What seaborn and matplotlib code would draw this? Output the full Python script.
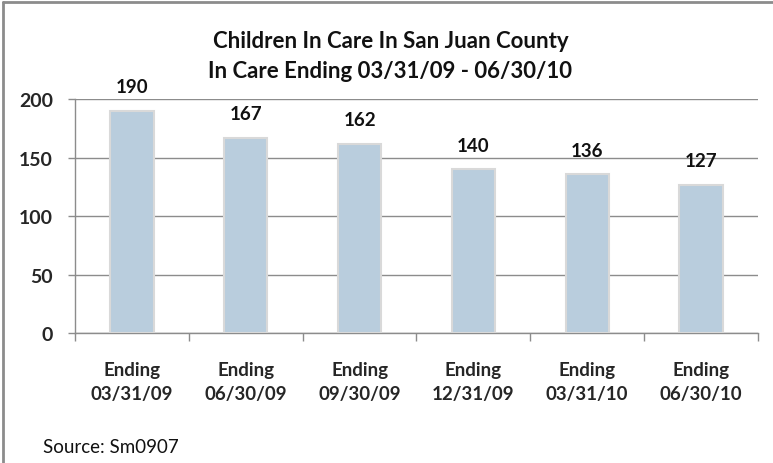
import pandas as pd
import numpy as np
import matplotlib
matplotlib.use("Agg")
import matplotlib.pyplot as plt
import seaborn as sns

# data
periods = ["Ending\n03/31/09", "Ending\n06/30/09", "Ending\n09/30/09",
           "Ending\n12/31/09", "Ending\n03/31/10", "Ending\n06/30/10"]
children = [190, 167, 162, 140, 136, 127]
y_ticks = [0, 50, 100, 150, 200]

df = pd.DataFrame({"period": periods, "children": children})

sns.set_theme(style="white")
plt.rcParams['font.family'] = ['Lato', 'DejaVu Sans']

fig = plt.figure(figsize=(7.73, 4.64), dpi=100)
ax = fig.add_axes([0.097, 0.2795, 0.8836, 0.505])

sns.barplot(data=df, x="period", y="children", color="#B9CDDD", saturation=1,
            width=0.38, edgecolor="#d9d9d9", linewidth=1.5, ax=ax, zorder=3)

ax.set_ylim(0, 200)
ax.set_xlim(-0.5, len(periods) - 0.5)
ax.set_yticks(y_ticks)
ax.set_yticklabels([str(t) for t in y_ticks], fontsize=14, fontweight="bold")
ax.yaxis.grid(True, color="#8c8c8c", linewidth=1, zorder=0)
ax.tick_params(axis="y", length=5, width=1, color="#8c8c8c", pad=11, left=True)

# tick marks between categories, labels at category centres
ax.set_xticks(np.arange(-0.5, len(periods)), labels=[""] * (len(periods) + 1))
ax.set_xticks(range(len(periods)), labels=periods, minor=True)
ax.tick_params(axis="x", which="major", length=6, width=1, color="#8c8c8c", bottom=True)
ax.tick_params(axis="x", which="minor", length=0, pad=20, labelsize=13.5)
for lab in ax.get_xticklabels(minor=True):
    lab.set_fontweight("bold")
    lab.set_linespacing(1.5)

ax.set_xlabel("")
ax.set_ylabel("")
for side in ["top", "right"]:
    ax.spines[side].set_visible(False)
for side in ["left", "bottom"]:
    ax.spines[side].set_color("#8c8c8c")
    ax.spines[side].set_linewidth(1)

# value labels
for i, v in enumerate(children):
    ax.annotate(str(v), (i, v), xytext=(0, 11), textcoords="offset points",
                ha="center", va="bottom", fontsize=13.5, fontweight="bold",
                color="#111111", zorder=5)

fig.text(0.505, 1 - 42 / 464, "Children In Care In San Juan County",
         ha="center", va="center", fontsize=16, fontweight="bold", color="#111111")
fig.text(0.505, 1 - 72 / 464, "In Care Ending 03/31/09 - 06/30/10",
         ha="center", va="center", fontsize=16, fontweight="bold", color="#111111")
fig.text(43 / 773, 1 - 448 / 464, "Source: Sm0907", ha="left", va="center",
         fontsize=13.5, color="#111111")

# frame (only top and left show in the crop)
fig.add_artist(plt.Line2D([3 / 773, 3 / 773], [0, 1 - 3 / 464], color="#8c8c8c",
                          linewidth=2, transform=fig.transFigure))
fig.add_artist(plt.Line2D([3 / 773, 1], [1 - 3 / 464, 1 - 3 / 464], color="#8c8c8c",
                          linewidth=2, transform=fig.transFigure))

fig.savefig("out.png", dpi=100)
